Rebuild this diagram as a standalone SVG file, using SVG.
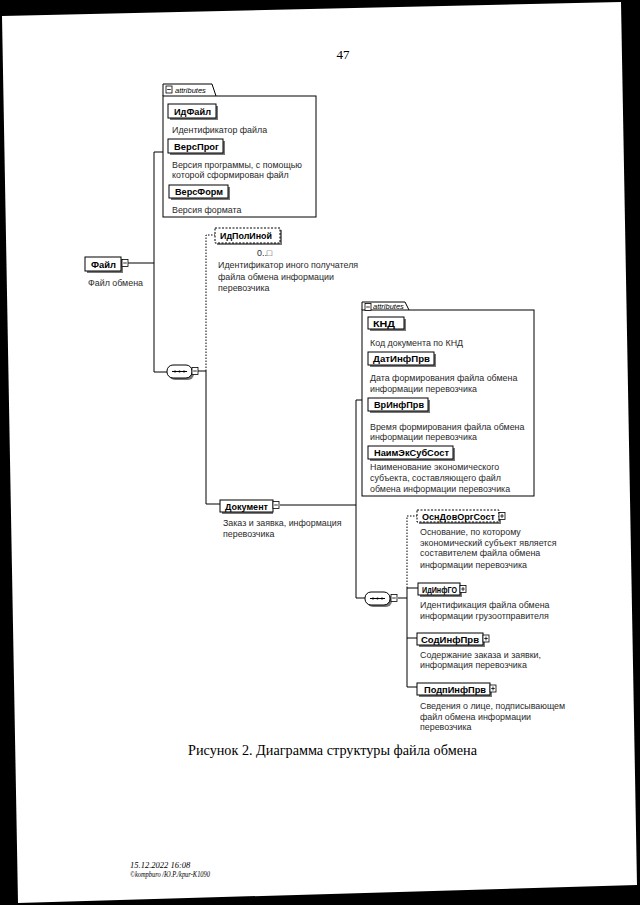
<svg xmlns="http://www.w3.org/2000/svg" width="640" height="905" viewBox="0 0 640 905">
<style>
.el{fill:#fff;stroke:#000;stroke-width:1}
.opt{fill:#fff;stroke:#000;stroke-width:1;stroke-dasharray:2,1.5}
.sh{fill:#777}
.nm{font-family:"Liberation Sans",Arial,sans-serif;font-size:9.5px;font-weight:bold;fill:#000}
.ds{font-family:"Liberation Sans",Arial,sans-serif;font-size:8.9px;fill:#2a2a2a}
.at{font-family:"Liberation Sans",Arial,sans-serif;font-size:7.5px;font-style:italic;fill:#000}
.ico{fill:#fff;stroke:#000;stroke-width:0.8}
.cn{fill:none;stroke:#000;stroke-width:1}
.dot{fill:none;stroke:#000;stroke-width:1;stroke-dasharray:1.5,1.5}
.box{fill:#fff;stroke:#000;stroke-width:1}
.cap{font-family:"Liberation Serif","Times New Roman",serif;fill:#000}
</style>
<defs>
<g id="minus"><rect class="ico" x="0" y="0" width="6" height="7"/><path d="M1.2,3.5H4.8" stroke="#000" stroke-width="0.8"/></g>
<g id="plus"><rect class="ico" x="0" y="0" width="6" height="7"/><path d="M1.2,3.5H4.8M3,1.5V5.5" stroke="#000" stroke-width="0.8"/></g>
<g id="seq"><rect x="2" y="2" width="25" height="13" rx="6" class="sh"/><rect x="0" y="0" width="25" height="13" rx="6" class="el"/><path d="M5,6.5H20" stroke="#000" stroke-width="1"/><circle cx="8" cy="6.5" r="1.1"/><circle cx="12.5" cy="6.5" r="1.1"/><circle cx="17" cy="6.5" r="1.1"/></g>
</defs>
<rect x="0" y="0" width="640" height="905" fill="#000"/>
<polygon points="2,16 621,2 637,885 18,903" fill="#fff"/>
<text class="cap" x="343" y="59" font-size="13" text-anchor="middle">47</text>

<g id="connectors">
<path class="cn" d="M128,263H154M154,152V372M154,152H163M154,372H167"/>
<path class="cn" d="M198,371H206M206,371V504H220"/>
<path class="dot" d="M206,371V235H215"/>
<path class="cn" d="M280,505H356M356,400V598M356,400H362M356,598H365"/>
<path class="cn" d="M398,598H407M407,588V687M407,588H418M407,638H417M407,687H417"/>
<path class="dot" d="M407,588V516H417"/>
</g>

<g id="attrs1">
<path class="box" d="M163,96V84H212L216,96"/>
<rect class="box" x="163" y="96" width="153" height="121"/>
<use href="#minus" x="166" y="86"/>
<text class="at" x="175" y="92.5">attributes</text>
</g>
<g id="ИдФайл">
<rect class="sh" x="170" y="106" width="48" height="14"/>
<rect class="el" x="168" y="104" width="48" height="14"/>
<text class="nm" x="174" y="114.8" textLength="37" lengthAdjust="spacingAndGlyphs">ИдФайл</text>
<text class="ds" x="172" y="133">Идентификатор файла</text>
</g>
<g id="ВерсПрог">
<rect class="sh" x="170" y="141" width="55" height="14"/>
<rect class="el" x="168" y="139" width="55" height="14"/>
<text class="nm" x="174" y="149.8" textLength="45" lengthAdjust="spacingAndGlyphs">ВерсПрог</text>
<text class="ds" x="172" y="168">Версия программы, с помощью</text>
<text class="ds" x="172" y="178">которой сформирован файл</text>
</g>
<g id="ВерсФорм">
<rect class="sh" x="171" y="187" width="59" height="13"/>
<rect class="el" x="169" y="185" width="59" height="13"/>
<text class="nm" x="175" y="195.3" textLength="48" lengthAdjust="spacingAndGlyphs">ВерсФорм</text>
<text class="ds" x="172" y="213">Версия формата</text>
</g>

<g id="Файл">
<rect class="sh" x="87" y="259" width="36" height="14"/>
<rect class="el" x="85" y="257" width="36" height="14"/>
<text class="nm" x="91" y="267.8" textLength="25" lengthAdjust="spacingAndGlyphs">Файл</text>
<use href="#minus" x="122" y="259.5"/>
<text class="ds" x="88" y="286">Файл обмена</text>
</g>

<g id="seq1"><use href="#seq" x="167" y="365"/><use href="#minus" x="192" y="367.5"/></g>

<g id="ИдПолИной">
<rect class="sh" x="217" y="230" width="65" height="15"/>
<rect class="opt" x="215" y="228" width="65" height="15"/>
<text class="nm" x="220" y="239.3" textLength="52" lengthAdjust="spacingAndGlyphs">ИдПолИной</text>
<text class="ds" x="257" y="256">0..□</text>
<text class="ds" x="218" y="268">Идентификатор иного получателя</text>
<text class="ds" x="218" y="280">файла обмена информации</text>
<text class="ds" x="218" y="291">перевозчика</text>
</g>

<g id="Документ">
<rect class="sh" x="222" y="502" width="51" height="12"/>
<rect class="el" x="220" y="500" width="53" height="12"/>
<text class="nm" x="225" y="509.6" textLength="43" lengthAdjust="spacingAndGlyphs">Документ</text>
<use href="#minus" x="273" y="501.5"/>
<text class="ds" x="223" y="526">Заказ и заявка, информация</text>
<text class="ds" x="223" y="537">перевозчика</text>
</g>

<g id="attrs2">
<path class="box" d="M362,310V302H405L409,310"/>
<rect class="box" x="362" y="310" width="172" height="186"/>
<use href="#minus" x="365" y="303.5"/>
<text class="at" x="373" y="309">attributes</text>
</g>
<g id="КНД">
<rect class="sh" x="370" y="319" width="36" height="12"/>
<rect class="el" x="368" y="317" width="36" height="12"/>
<text class="nm" x="373" y="326.6" textLength="22" lengthAdjust="spacingAndGlyphs">КНД</text>
<text class="ds" x="370" y="346">Код документа по КНД</text>
</g>
<g id="ДатИнфПрв">
<rect class="sh" x="370" y="354" width="66" height="13"/>
<rect class="el" x="368" y="352" width="66" height="13"/>
<text class="nm" x="373" y="362.2" textLength="57" lengthAdjust="spacingAndGlyphs">ДатИнфПрв</text>
<text class="ds" x="370" y="381">Дата формирования файла обмена</text>
<text class="ds" x="370" y="392">информации перевозчика</text>
</g>
<g id="ВрИнфПрв">
<rect class="sh" x="370" y="400" width="60" height="13"/>
<rect class="el" x="368" y="398" width="60" height="13"/>
<text class="nm" x="374" y="408.2" textLength="50" lengthAdjust="spacingAndGlyphs">ВрИнфПрв</text>
<text class="ds" x="370" y="430">Время формирования файла обмена</text>
<text class="ds" x="370" y="440">информации перевозчика</text>
</g>
<g id="НаимЭкСубСост">
<rect class="sh" x="370" y="448" width="85" height="13"/>
<rect class="el" x="368" y="446" width="85" height="13"/>
<text class="nm" x="374" y="456.2" textLength="75" lengthAdjust="spacingAndGlyphs">НаимЭкСубСост</text>
<text class="ds" x="370" y="470">Наименование экономического</text>
<text class="ds" x="370" y="481">субъекта, составляющего файл</text>
<text class="ds" x="370" y="492">обмена информации перевозчика</text>
</g>

<g id="seq2"><use href="#seq" x="365" y="592"/><use href="#minus" x="391" y="594.5"/></g>

<g id="ОснДовОргСост">
<rect class="sh" x="419" y="512" width="82" height="12"/>
<rect class="opt" x="417" y="510" width="82" height="12"/>
<text class="nm" x="422" y="519.6" textLength="73" lengthAdjust="spacingAndGlyphs">ОснДовОргСост</text>
<use href="#plus" x="499" y="512.5"/>
<text class="ds" x="420" y="535">Основание, по которому</text>
<text class="ds" x="420" y="546">экономический субъект является</text>
<text class="ds" x="420" y="556">составителем файла обмена</text>
<text class="ds" x="420" y="568">информации перевозчика</text>
</g>
<g id="ИдИнфГО">
<rect class="sh" x="420" y="585" width="42" height="12"/>
<rect class="el" x="418" y="583" width="42" height="12"/>
<text class="nm" x="422" y="592.6" style="font-size:8.5px" textLength="35" lengthAdjust="spacingAndGlyphs">ИдИнфГО</text>
<use href="#plus" x="460" y="585.5"/>
<text class="ds" x="420" y="608">Идентификация файла обмена</text>
<text class="ds" x="420" y="619">информации грузоотправителя</text>
</g>
<g id="СодИнфПрв">
<rect class="sh" x="419" y="635" width="66" height="12"/>
<rect class="el" x="417" y="633" width="66" height="12"/>
<text class="nm" x="421" y="642.6" textLength="58" lengthAdjust="spacingAndGlyphs">СодИнфПрв</text>
<use href="#plus" x="483" y="635"/>
<text class="ds" x="420" y="658">Содержание заказа и заявки,</text>
<text class="ds" x="420" y="668">информация перевозчика</text>
</g>
<g id="ПодпИнфПрв">
<rect class="sh" x="419" y="685" width="73" height="12"/>
<rect class="el" x="417" y="683" width="73" height="12"/>
<text class="nm" x="424" y="692.6" textLength="62" lengthAdjust="spacingAndGlyphs">ПодпИнфПрв</text>
<use href="#plus" x="490" y="685"/>
<text class="ds" x="420" y="709">Сведения о лице, подписывающем</text>
<text class="ds" x="420" y="720">файл обмена информации</text>
<text class="ds" x="420" y="730">перевозчика</text>
</g>

<text class="cap" x="188" y="755" font-size="14.8" textLength="289" lengthAdjust="spacingAndGlyphs">Рисунок 2. Диаграмма структуры файла обмена</text>
<text class="cap" x="130" y="868" font-size="8.5" font-style="italic">15.12.2022 16:08</text>
<text class="cap" x="130" y="876.5" font-size="8" font-style="italic" textLength="80" lengthAdjust="spacingAndGlyphs">©kompburo /Ю.Р./kpur-K1090</text>
</svg>
